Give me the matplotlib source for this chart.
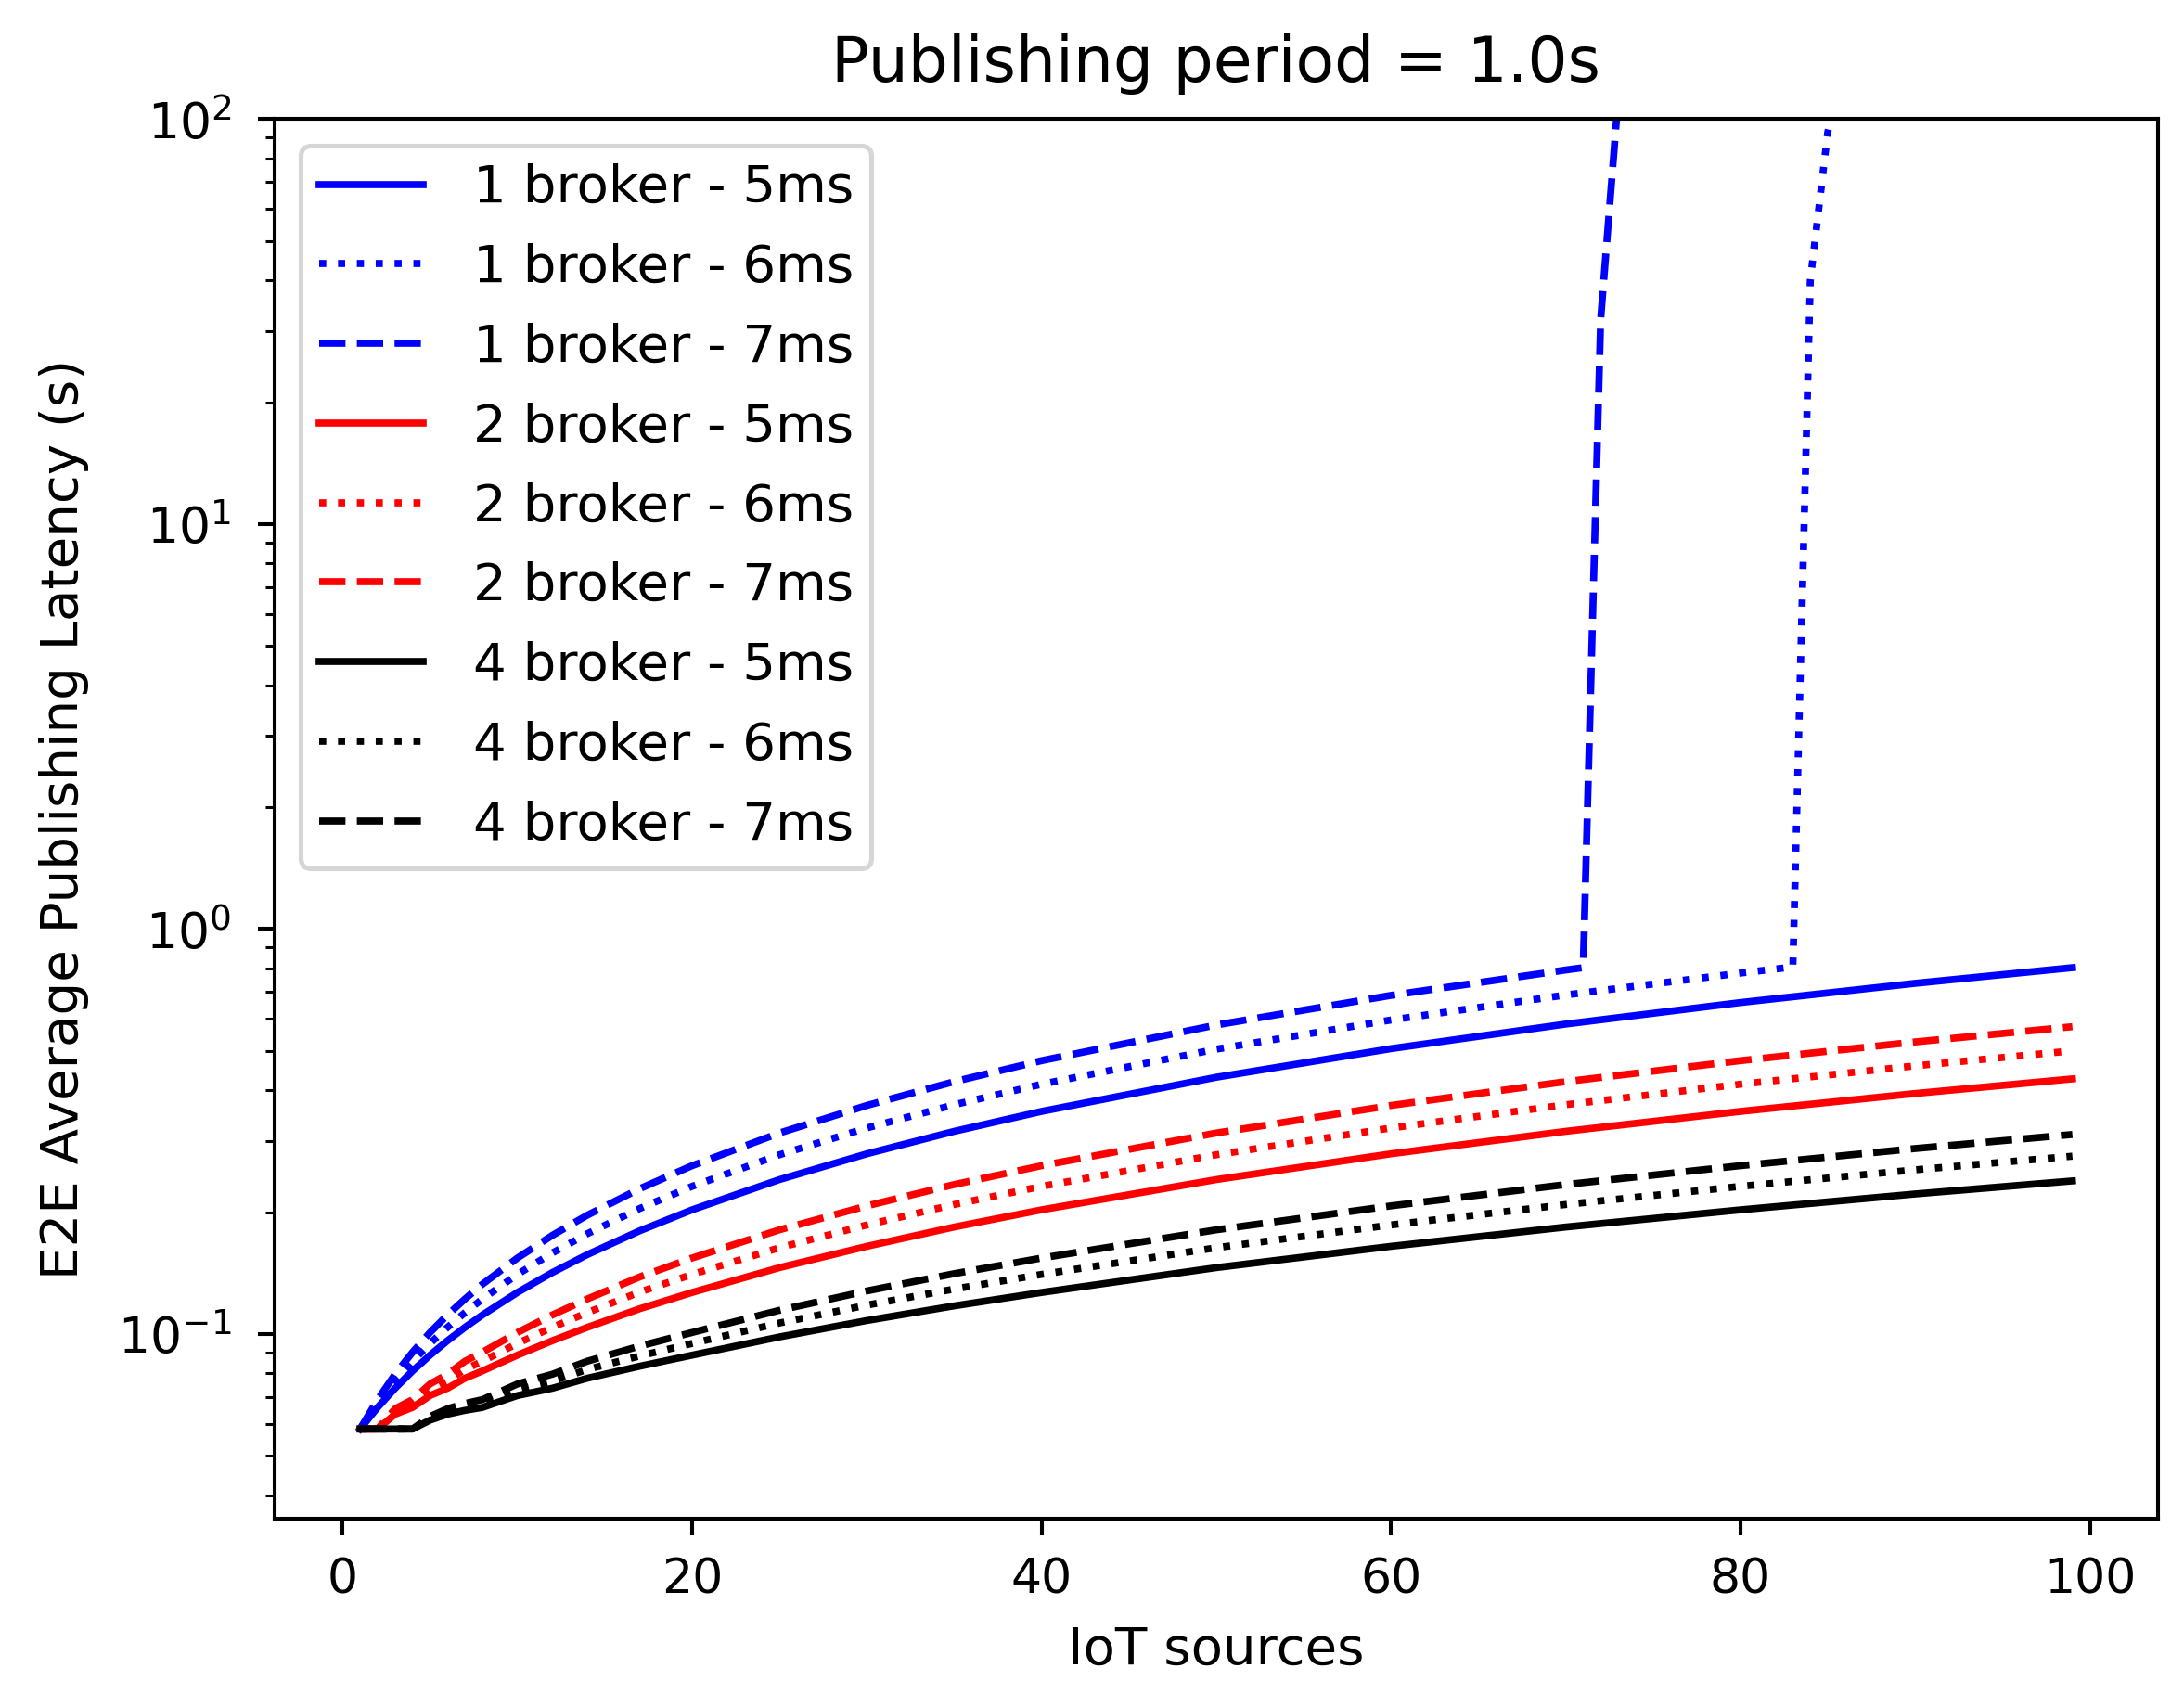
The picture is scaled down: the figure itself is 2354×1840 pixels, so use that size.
import matplotlib
matplotlib.use("Agg")
import matplotlib.pyplot as plt

# IoT sources (common grid)
xs = [1, 2, 3, 4, 5, 6, 7, 8, 10, 12, 14, 17, 20, 25, 30, 35, 40, 50, 60, 70, 80, 90, 99]

# 1 broker
b1_5 = [0.0583, 0.0659, 0.0735, 0.0811, 0.0887, 0.0963, 0.1039, 0.1115, 0.1267, 0.1419, 0.1571,
        0.1799, 0.2027, 0.2407, 0.2787, 0.3167, 0.3547, 0.4307, 0.5067, 0.5827, 0.6587, 0.7347, 0.8031]
x_b1_6 = [1, 2, 3, 4, 5, 6, 7, 8, 10, 12, 14, 17, 20, 25, 30, 35, 40, 50, 60, 70, 80, 83, 84, 85, 86]
b1_6 = [0.0583, 0.0674, 0.0765, 0.0857, 0.0948, 0.1039, 0.1130, 0.1221, 0.1404, 0.1586, 0.1769,
        0.2042, 0.2316, 0.2772, 0.3228, 0.3684, 0.4140, 0.5052, 0.5964, 0.6876, 0.7788, 0.8061,
        40.0, 93.0, 141.0]
x_b1_7 = [1, 2, 3, 4, 5, 6, 7, 8, 10, 12, 14, 17, 20, 25, 30, 35, 40, 50, 60, 70, 71, 72, 73]
b1_7 = [0.0583, 0.0689, 0.0796, 0.0902, 0.1009, 0.1115, 0.1221, 0.1328, 0.1541, 0.1753, 0.1966,
        0.2285, 0.2605, 0.3137, 0.3669, 0.4201, 0.4733, 0.5797, 0.6861, 0.7925, 0.8031, 32.0, 112.0]

# 2 brokers
b2_5 = [0.0583, 0.0583, 0.0634, 0.0659, 0.0705, 0.0735, 0.0778, 0.0811, 0.0887, 0.0963, 0.1039,
        0.1155, 0.1267, 0.1459, 0.1647, 0.1838, 0.2027, 0.2407, 0.2787, 0.3167, 0.3547, 0.3927, 0.4268]
b2_6 = [0.0583, 0.0583, 0.0644, 0.0674, 0.0729, 0.0765, 0.0818, 0.0857, 0.0948, 0.1039, 0.1130,
        0.1270, 0.1404, 0.1634, 0.1860, 0.2089, 0.2316, 0.2772, 0.3228, 0.3684, 0.4140, 0.4596, 0.5005]
b2_7 = [0.0583, 0.0583, 0.0654, 0.0689, 0.0753, 0.0796, 0.0857, 0.0902, 0.1009, 0.1115, 0.1221,
        0.1384, 0.1541, 0.1809, 0.2073, 0.2340, 0.2605, 0.3137, 0.3669, 0.4201, 0.4733, 0.5265, 0.5742]

# 4 brokers
b4_5 = [0.0583, 0.0583, 0.0583, 0.0583, 0.0613, 0.0634, 0.0648, 0.0659, 0.0705, 0.0735, 0.0778,
        0.0833, 0.0887, 0.0984, 0.1080, 0.1174, 0.1267, 0.1459, 0.1647, 0.1838, 0.2027, 0.2218, 0.2389]
b4_6 = [0.0583, 0.0583, 0.0583, 0.0583, 0.0620, 0.0644, 0.0661, 0.0674, 0.0729, 0.0765, 0.0818,
        0.0883, 0.0948, 0.1065, 0.1179, 0.1292, 0.1404, 0.1634, 0.1860, 0.2089, 0.2316, 0.2545, 0.2750]
b4_7 = [0.0583, 0.0583, 0.0583, 0.0583, 0.0626, 0.0654, 0.0674, 0.0689, 0.0753, 0.0796, 0.0857,
        0.0934, 0.1009, 0.1145, 0.1278, 0.1410, 0.1541, 0.1809, 0.2073, 0.2340, 0.2605, 0.2872, 0.3111]

labels = ["1 broker - 5ms", "1 broker - 6ms", "1 broker - 7ms",
          "2 broker - 5ms", "2 broker - 6ms", "2 broker - 7ms",
          "4 broker - 5ms", "4 broker - 6ms", "4 broker - 7ms"]

DPI = 368
fig = plt.figure(figsize=(2354 / DPI, 1840 / DPI), dpi=DPI)
ax = fig.add_axes([0.1257, 0.1103, 0.8624, 0.8199])

ax.plot(xs, b1_5, color="blue", linestyle="-", label=labels[0])
ax.plot(x_b1_6, b1_6, color="blue", linestyle=":", label=labels[1])
ax.plot(x_b1_7, b1_7, color="blue", linestyle="--", label=labels[2])
ax.plot(xs, b2_5, color="red", linestyle="-", label=labels[3])
ax.plot(xs, b2_6, color="red", linestyle=":", label=labels[4])
ax.plot(xs, b2_7, color="red", linestyle="--", label=labels[5])
ax.plot(xs, b4_5, color="black", linestyle="-", label=labels[6])
ax.plot(xs, b4_6, color="black", linestyle=":", label=labels[7])
ax.plot(xs, b4_7, color="black", linestyle="--", label=labels[8])

ax.set_yscale("log")
ax.set_ylim(0.035, 100)
ax.set_xlim(-3.9, 103.9)
ax.tick_params(axis="y", pad=5.6, labelsize=10.5)
ax.tick_params(axis="x", pad=4.6, labelsize=10.2)
ax.set_title("Publishing period = 1.0s", fontsize=13.3, pad=8)
ax.set_xlabel("IoT sources", fontsize=11, labelpad=4.5)
ax.set_ylabel("E2E Average Publishing Latency (s)", fontsize=11, labelpad=6)
ax.legend(loc="upper left", fontsize=11, labelspacing=0.565, borderpad=0.35,
          handletextpad=0.95)

fig.savefig("out.png", dpi=DPI)
